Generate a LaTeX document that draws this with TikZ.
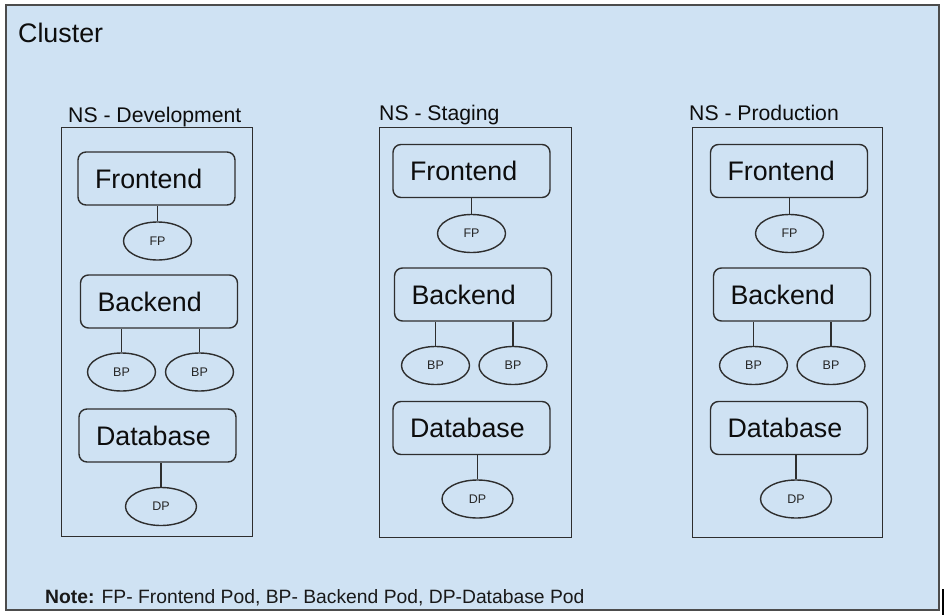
\documentclass[tikz,border=0pt]{standalone}
\usepackage{fontspec}
\setmainfont{Liberation Sans}
\usetikzlibrary{shapes.geometric}
\definecolor{bgblue}{HTML}{CFE2F3}
\definecolor{lineg}{HTML}{2E2E2E}
\tikzset{
  x=1pt, y=-1pt,
  svcbox/.style={draw=lineg, line width=1.4pt, rounded corners=8pt, minimum height=53pt,
    inner xsep=17pt, inner ysep=0pt, text width=123pt, align=left,
    font=\fontsize{26.8}{30}\selectfont, text=black!95},
  podell/.style={draw=lineg, line width=1.4pt, ellipse, minimum width=68pt, minimum height=38pt,
    inner sep=0pt, font=\fontsize{12.5}{14}\selectfont, text=black!85},
  nsbox/.style={draw=lineg, line width=1.4pt},
  nslabel/.style={anchor=base west, inner sep=0pt, font=\fontsize{21.2}{24}\selectfont, text=black!95},
  conn/.style={draw=lineg, line width=1.4pt}
}
\begin{document}
\begin{tikzpicture}
\useasboundingbox (0,0) rectangle (944,615);
\fill[white] (0,0) rectangle (944,615);
\node[draw=black!70, line width=1.8pt, fill=bgblue, anchor=north west, minimum width=933pt, minimum height=605pt, inner sep=0pt] (cluster) at (5,4) {};
\node[anchor=base west, inner sep=0pt, font=\fontsize{26.8}{30}\selectfont, text=black!95] (clabel) at (18,43) {Cluster};

% Development
\node[nsbox, anchor=north west, minimum width=191pt, minimum height=409pt, inner sep=0pt] (nsdev) at (61,127) {};
\node[nslabel] (ldev) at (68,122) {NS - Development};
\node[svcbox] (fedev) at (156.5,178.5) {Frontend};
\node[podell] (fpdev) at (157.5,241) {FP};
\node[svcbox] (bedev) at (159,301.5) {Backend};
\node[podell] (bpdevA) at (121.5,372) {BP};
\node[podell] (bpdevB) at (199.5,372) {BP};
\node[svcbox] (dbdev) at (157.5,435.5) {Database};
\node[podell, minimum width=71pt] (dpdev) at (161,506.5) {DP};
\draw[conn] (fpdev.north) -- (fpdev.north |- fedev.south);
\draw[conn] (bpdevA.north) -- (bpdevA.north |- bedev.south);
\draw[conn] (bpdevB.north) -- (bpdevB.north |- bedev.south);
\draw[conn] (dpdev.north) -- (dpdev.north |- dbdev.south);

% Staging
\node[nsbox, anchor=north west, minimum width=192pt, minimum height=410pt, inner sep=0pt] (nsstg) at (379,127) {};
\node[nslabel] (lstg) at (379,121) {NS - Staging};
\node[svcbox] (festg) at (471.5,171) {Frontend};
\node[podell] (fpstg) at (471.5,233.5) {FP};
\node[svcbox] (bestg) at (473,294.5) {Backend};
\node[podell] (bpstgA) at (435.5,365.5) {BP};
\node[podell] (bpstgB) at (513,365.5) {BP};
\node[svcbox] (dbstg) at (471.5,428) {Database};
\node[podell, minimum width=71pt] (dpstg) at (477.5,499) {DP};
\draw[conn] (fpstg.north) -- (fpstg.north |- festg.south);
\draw[conn] (bpstgA.north) -- (bpstgA.north |- bestg.south);
\draw[conn] (bpstgB.north) -- (bpstgB.north |- bestg.south);
\draw[conn] (dpstg.north) -- (dpstg.north |- dbstg.south);

% Production
\node[nsbox, anchor=north west, minimum width=190pt, minimum height=410pt, inner sep=0pt] (nsprd) at (692,127) {};
\node[nslabel] (lprd) at (689,121) {NS - Production};
\node[svcbox] (feprd) at (789,171) {Frontend};
\node[podell] (fpprd) at (789.5,233.5) {FP};
\node[svcbox] (beprd) at (792,294.5) {Backend};
\node[podell] (bpprdA) at (753.5,365.5) {BP};
\node[podell] (bpprdB) at (831,365.5) {BP};
\node[svcbox] (dbprd) at (789,428) {Database};
\node[podell, minimum width=71pt] (dpprd) at (796,499) {DP};
\draw[conn] (fpprd.north) -- (fpprd.north |- feprd.south);
\draw[conn] (bpprdA.north) -- (bpprdA.north |- beprd.south);
\draw[conn] (bpprdB.north) -- (bpprdB.north |- beprd.south);
\draw[conn] (dpprd.north) -- (dpprd.north |- dbprd.south);

% Note
\node[anchor=base west, inner sep=0pt, font=\fontsize{19.3}{22}\selectfont, text=black!90] (note) at (45,603) {\textbf{Note:} FP- Frontend Pod, BP- Backend Pod, DP-Database Pod};

% cursor mark
\coordinate (curA) at (943,589);
\coordinate (curB) at (943,615);
\draw[black, line width=1.3pt] (curA) -- (curB);
\end{tikzpicture}
\end{document}
